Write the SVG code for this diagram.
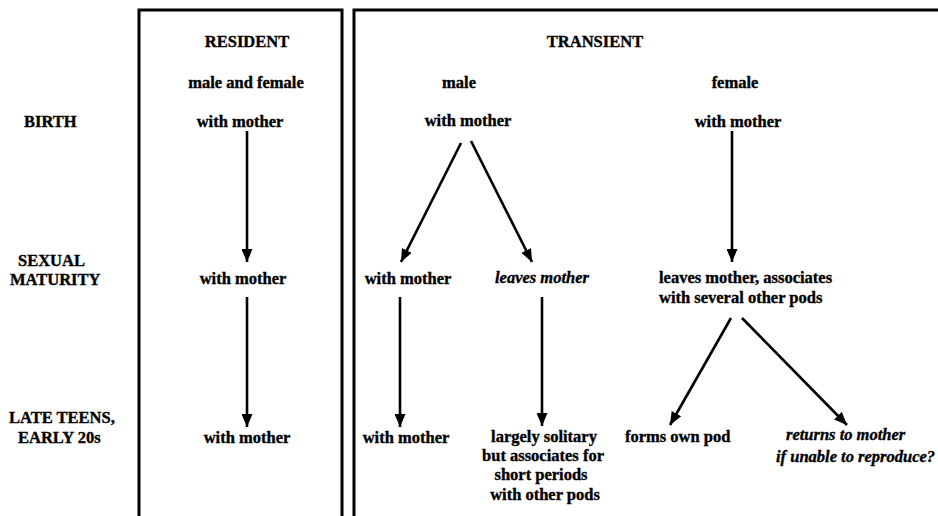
<svg xmlns="http://www.w3.org/2000/svg" width="938" height="516" viewBox="0 0 938 516">
<style>
text{font-family:"Liberation Serif","Times New Roman",serif;font-weight:bold;font-size:16.5px;fill:#000;stroke:#000;stroke-width:0.35}
.c{text-anchor:middle}
.i{font-style:italic}
.frame{fill:none;stroke:#000;stroke-width:3}
.arr{fill:none;stroke:#000;stroke-width:2.6}
</style>
<defs>
<marker id="ah" markerUnits="userSpaceOnUse" markerWidth="13" markerHeight="11" refX="13" refY="5.5" orient="auto">
<path d="M0,0 L13,5.5 L0,11 z" fill="#000"/>
</marker>
</defs>
<rect width="938" height="516" fill="#fff"/>
<g id="frames">
<path class="frame" d="M139,516 V10 H342 V516"/>
<path class="frame" d="M354,516 V10 H938"/>
</g>
<g id="row-labels">
<text x="24" y="127">BIRTH</text>
<text x="18" y="266">SEXUAL</text>
<text x="10" y="285">MATURITY</text>
<text x="9" y="423">LATE TEENS,</text>
<text x="18" y="443">EARLY 20s</text>
</g>
<g id="headers">
<text class="c" x="247" y="47">RESIDENT</text>
<text class="c" x="246" y="88">male and female</text>
<text class="c" x="595" y="47">TRANSIENT</text>
<text class="c" x="459" y="88">male</text>
<text class="c" x="735" y="88">female</text>
</g>
<g id="res-birth"><text class="c" x="240" y="127">with mother</text></g>
<g id="res-mat"><text class="c" x="243" y="284">with mother</text></g>
<g id="res-late"><text class="c" x="247" y="443">with mother</text></g>
<g id="male-birth"><text class="c" x="468" y="126">with mother</text></g>
<g id="male-mat-stay"><text class="c" x="408" y="284">with mother</text></g>
<g id="male-mat-leave"><text class="c i" x="542" y="283">leaves mother</text></g>
<g id="male-late-stay"><text class="c" x="406" y="443">with mother</text></g>
<g id="male-late-solitary">
<text class="c" x="544" y="442">largely solitary</text>
<text class="c" x="543" y="461">but associates for</text>
<text class="c" x="541" y="480">short periods</text>
<text class="c" x="545" y="500">with other pods</text>
</g>
<g id="female-birth"><text class="c" x="738" y="127">with mother</text></g>
<g id="female-mat">
<text x="659" y="283">leaves mother, associates</text>
<text x="659" y="303">with several other pods</text>
</g>
<g id="female-late-own"><text x="625" y="442">forms own pod</text></g>
<g id="female-late-return">
<text class="i" x="786" y="440">returns to mother</text>
<text class="i" x="776" y="462">if unable to reproduce?</text>
</g>
<g id="connectors">
<line class="arr" x1="247" y1="131" x2="247" y2="262" marker-end="url(#ah)"/>
<line class="arr" x1="247" y1="297" x2="247" y2="427" marker-end="url(#ah)"/>
<line class="arr" x1="461" y1="143" x2="401" y2="262" marker-end="url(#ah)"/>
<line class="arr" x1="471" y1="141" x2="532" y2="262" marker-end="url(#ah)"/>
<line class="arr" x1="400" y1="297" x2="400" y2="427" marker-end="url(#ah)"/>
<line class="arr" x1="542" y1="297" x2="542" y2="426" marker-end="url(#ah)"/>
<line class="arr" x1="732" y1="131" x2="732" y2="262" marker-end="url(#ah)"/>
<line class="arr" x1="731" y1="318" x2="670" y2="425" marker-end="url(#ah)"/>
<line class="arr" x1="742" y1="318" x2="847" y2="425" marker-end="url(#ah)"/>
</g>
</svg>
